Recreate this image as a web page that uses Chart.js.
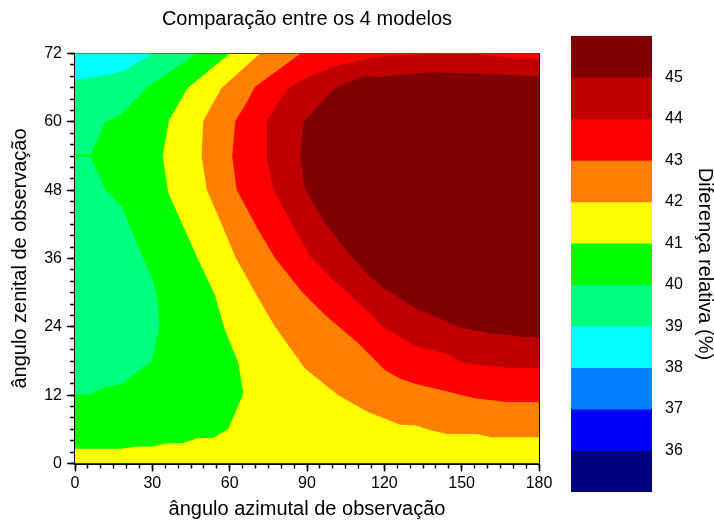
<!DOCTYPE html>
<html lang="pt">
<head>
  <meta charset="UTF-8" />
  <title>Comparação entre os 4 modelos</title>
  <script src="https://cdn.jsdelivr.net/npm/chart.js"></script>
  <style>
    body { margin: 0; background: #fff; }
    #wrap { position: relative; width: 714px; height: 525px; }
    #wrap canvas { position: absolute; top: 0; }
    #contour { left: 0; }
    #scale { left: 560px; }
  </style>
</head>
<body>
<div id="wrap">
  <canvas id="contour" width="714" height="525"></canvas>
  <canvas id="scale" width="154" height="525"></canvas>
</div>

<script>
  // Contour levels (%), lower edge of each colour band
  const levels = [35, 36, 37, 38, 39, 40, 41, 42, 43, 44, 45];
  const scaleTop = 46;
  const levelColors = ['#000080', '#0000ff', '#0080ff', '#00ffff', '#00ff80', '#00ff00',
                       '#ffff00', '#ff8000', '#ff0000', '#c00000', '#800000'];

  // Axis ticks (degrees)
  const azimuthTicks = [0, 30, 60, 90, 120, 150, 180];
  const zenithTicks = [0, 12, 24, 36, 48, 60, 72];

  // Filled regions as [azimuth, zenith] outlines
  const domain = [[0, 0], [180, 0], [180, 72], [0, 72]];

  const below41 = [[0, 72], [60.1, 72], [43.6, 65.9], [36.5, 60.3], [34.0, 54.0], [36.2, 47.5],
    [47.5, 36.1], [54.3, 29.6], [58.2, 23.4], [63.3, 17.8], [65.3, 12.3], [59.5, 6.1],
    [53.6, 4.5], [47.8, 4.5], [42.0, 3.6], [35.6, 3.5], [29.7, 3.0], [23.9, 3.0],
    [18.1, 2.6], [0, 2.6]];

  const below40 = [[0, 72], [47.2, 72], [27.8, 66.0], [18.1, 61.4], [11.6, 59.9], [6.1, 54.2],
    [0, 54.2], [0, 53.85], [6.1, 53.85], [11.6, 48.1], [18.1, 45.1], [26.4, 36.1],
    [30.4, 31.9], [31.9, 29.0], [32.7, 24.0], [29.7, 18.0], [18.1, 14.0], [11.6, 13.4],
    [5.8, 12.1], [0, 12.1]];

  const below39 = [[0, 72], [30.4, 72], [18.7, 68.9], [8.4, 67.9], [0, 67.4]];

  const above42 = [[71.8, 72], [180, 72], [180, 4.6], [161.6, 4.6], [155.8, 5.2], [144.2, 5.2],
    [138.4, 5.8], [131.9, 6.7], [126.1, 6.8], [120.2, 7.9], [113.8, 9.0], [102.1, 12.0],
    [95.7, 14.3], [89.2, 16.7], [77.6, 24.0], [71.1, 29.0], [62.4, 36.1], [59.2, 39.5],
    [51.1, 48.1], [49.1, 54.0], [49.8, 60.3], [56.9, 66.0]];

  const above43 = [[87.5, 72], [180, 72], [180, 10.8], [167.5, 10.8], [155.8, 11.4], [150.0, 12.0],
    [144.2, 12.7], [131.9, 14.0], [126.1, 14.9], [120.2, 16.4], [109.9, 21.1], [97.0, 26.1],
    [87.9, 30.2], [77.6, 36.1], [71.1, 41.0], [62.7, 48.1], [61.0, 53.9], [62.2, 60.2],
    [66.0, 62.9], [69.8, 66.1]];

  const above44 = [[78.2, 62.9], [82.7, 65.9], [89.9, 67.8], [101.5, 69.9], [113.1, 71.0],
    [120, 71.5], [130, 71.8], [140, 72], [154, 72], [167.5, 71.3], [180, 71.0], [180, 16.8],
    [167.5, 16.8], [155.8, 17.4], [150.0, 17.8], [144.2, 19.3], [131.9, 20.6], [125.4, 22.5],
    [120.2, 23.7], [112.5, 27.2], [100.9, 31.9], [91.4, 36.3], [84.7, 41.6], [76.9, 48.1],
    [74.4, 53.9], [74.4, 60.1]];

  const above45 = [[180, 68.0], [157.1, 68.5], [137.7, 68.7], [118.3, 67.9], [112, 68.0],
    [100.5, 65.8], [88.6, 60.0], [87.3, 53.9], [89.2, 48.1], [97.0, 42.2], [107.7, 36.1],
    [113.8, 33.1], [120.2, 30.6], [125.4, 29.3], [131.9, 27.2], [138.4, 26.1], [150.0, 23.8],
    [161.6, 22.8], [167.5, 22.6], [173.9, 22.2], [180, 22.2]];

  // painted bottom to top
  const regions = [
    { pts: domain,  color: '#ffff00' },
    { pts: below41, color: '#00ff00' },
    { pts: below40, color: '#00ff80' },
    { pts: below39, color: '#00ffff' },
    { pts: above42, color: '#ff8000' },
    { pts: above43, color: '#ff0000' },
    { pts: above44, color: '#c00000' },
    { pts: above45, color: '#800000' }
  ];

  const family = '"Liberation Sans", Arial, sans-serif';
  const tickFont = { family: family, size: 16 };
  const titleFont = { family: family, size: 20, weight: 'normal' };

  new Chart(document.getElementById('contour'), {
    type: 'line',
    data: {
      datasets: regions.map((r, i) => ({
        data: r.pts.map(([x, y]) => ({ x: x, y: y })),
        backgroundColor: r.color,
        borderColor: 'rgba(0,0,0,0)',
        borderWidth: 0,
        pointRadius: 0,
        pointHoverRadius: 0,
        pointHitRadius: 0,
        tension: 0,
        fill: 'shape',
        order: regions.length - i,
        xAxisID: 'x',
        yAxisID: 'y'
      }))
    },
    options: {
      responsive: false,
      animation: false,
      events: [],
      layout: { padding: { left: 0, right: 175, top: 0, bottom: 0 } },
      plugins: {
        legend: { display: false },
        tooltip: { enabled: false },
        title: {
          display: true,
          text: 'Comparação entre os 4 modelos',
          fullSize: false,
          color: '#000',
          font: titleFont,
          padding: { top: 7.7, bottom: 21.8 }
        }
      },
      scales: {
        x: {
          type: 'linear', position: 'bottom', min: 0, max: 180, weight: 1,
          afterFit: s => { s.height = 61.5; },
          afterBuildTicks: s => { s.ticks = azimuthTicks.map(v => ({ value: v })); },
          ticks: { color: '#000', font: tickFont, padding: 2, maxRotation: 0, autoSkip: false },
          grid: { drawOnChartArea: false, tickLength: 8, tickWidth: 1.5, tickColor: '#000' },
          border: { color: '#000', width: 2 },
          title: { display: true, text: 'ângulo azimutal de observação', color: '#000',
                   font: titleFont, padding: { top: 0, bottom: 4 } }
        },
        xMinor: {
          type: 'linear', position: 'bottom', min: 0, max: 180, weight: 0,
          afterFit: s => { s.height = 0; },
          ticks: { display: false, stepSize: 5 },
          grid: { drawOnChartArea: false, tickLength: 5, tickWidth: 1.5, tickColor: '#000' },
          border: { display: false }
        },
        x2: {
          type: 'linear', position: 'top', min: 0, max: 180,
          afterFit: s => { s.height = 0; },
          ticks: { display: false },
          grid: { display: false },
          border: { display: true, color: '#000', width: 2 }
        },
        y: {
          type: 'linear', position: 'left', min: 0, max: 72, weight: 1,
          afterFit: s => { s.width = 75; },
          afterBuildTicks: s => { s.ticks = zenithTicks.map(v => ({ value: v })); },
          ticks: { color: '#000', font: tickFont, padding: 5, autoSkip: false },
          grid: { drawOnChartArea: false, tickLength: 8, tickWidth: 1.5, tickColor: '#000' },
          border: { color: '#000', width: 2 },
          title: { display: true, text: 'ângulo zenital de observação', color: '#000',
                   font: titleFont, padding: { top: 8.5, bottom: 0 } }
        },
        yMinor: {
          type: 'linear', position: 'left', min: 0, max: 72, weight: 0,
          afterFit: s => { s.width = 0; },
          ticks: { display: false, stepSize: 2 },
          grid: { drawOnChartArea: false, tickLength: 5, tickWidth: 1.5, tickColor: '#000' },
          border: { display: false }
        },
        y2: {
          type: 'linear', position: 'right', min: 0, max: 72,
          afterFit: s => { s.width = 0; },
          ticks: { display: false },
          grid: { display: false },
          border: { display: true, color: '#000', width: 2 }
        }
      }
    }
  });

  // colour scale: each band runs from its level up to the top, higher bands drawn over lower ones
  new Chart(document.getElementById('scale'), {
    type: 'bar',
    data: {
      labels: [''],
      datasets: levels.map((lo, i) => ({
        data: [[lo, scaleTop]],
        backgroundColor: levelColors[i],
        borderWidth: 0,
        barPercentage: 1,
        categoryPercentage: 1,
        grouped: false,
        order: levels.length - i
      }))
    },
    options: {
      responsive: false,
      animation: false,
      events: [],
      layout: { padding: { left: 11, right: 0, top: 36, bottom: 33 } },
      plugins: { legend: { display: false }, tooltip: { enabled: false } },
      scales: {
        x: { display: false },
        y: {
          position: 'right', min: levels[0], max: scaleTop,
          afterFit: s => { s.width = 62; },
          afterBuildTicks: s => { s.ticks = levels.slice(1).map(v => ({ value: v })); },
          ticks: { color: '#000', font: tickFont, padding: 5, autoSkip: false },
          grid: { display: false },
          border: { display: false },
          title: { display: true, text: 'Diferença relativa (%)', color: '#000',
                   font: titleFont, padding: { top: -3, bottom: 0 } }
        }
      }
    }
  });
</script>
</body>
</html>
